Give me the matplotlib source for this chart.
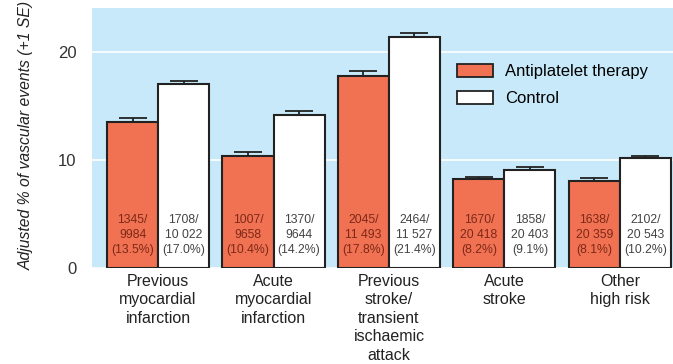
import matplotlib
matplotlib.use("Agg")
import matplotlib.pyplot as plt
from matplotlib.patches import Patch
import numpy as np

plt.rcParams['font.family'] = ['Liberation Sans', 'DejaVu Sans']

categories = ["Previous\nmyocardial\ninfarction",
              "Acute\nmyocardial\ninfarction",
              "Previous\nstroke/\ntransient\nischaemic\nattack",
              "Acute\nstroke",
              "Other\nhigh risk"]
antiplatelet = [13.5, 10.4, 17.8, 8.2, 8.1]
control = [17.0, 14.2, 21.4, 9.1, 10.2]
antiplatelet_se = [0.4, 0.35, 0.45, 0.2, 0.2]
control_se = [0.3, 0.35, 0.4, 0.25, 0.15]
antiplatelet_counts = ["1345/\n9984", "1007/\n9658", "2045/\n11 493", "1670/\n20 418", "1638/\n20 359"]
control_counts = ["1708/\n10 022", "1370/\n9644", "2464/\n11 527", "1858/\n20 403", "2102/\n20 543"]
series_names = ["Antiplatelet therapy", "Control"]
yticks = [0, 10, 20]

bg = "#c7e9f9"
red = "#f07252"
edge = "#222222"

fig = plt.figure(figsize=(6.73, 3.64), dpi=100)
ax = fig.add_axes([92 / 673, 1 - 268 / 364, 581 / 673, 260 / 364])
ax.set_facecolor(bg)

x = np.arange(len(categories))
w = 0.442
ax.bar(x - w / 2, antiplatelet, w, color=red, edgecolor=edge, linewidth=1.5, zorder=3)
ax.bar(x + w / 2, control, w, color="white", edgecolor=edge, linewidth=1.5, zorder=3)
ax.errorbar(x - w / 2, antiplatelet, yerr=[np.zeros(5), antiplatelet_se], fmt="none",
            ecolor=edge, elinewidth=1.3, capsize=10, capthick=1.3, zorder=2)
ax.errorbar(x + w / 2, control, yerr=[np.zeros(5), control_se], fmt="none",
            ecolor=edge, elinewidth=1.3, capsize=10, capthick=1.3, zorder=2)

# event counts and rates written inside each bar
for i in range(len(categories)):
    ax.text(x[i] - w / 2, 3.05, f"{antiplatelet_counts[i]}\n({antiplatelet[i]:.1f}%)",
            ha="center", va="center", fontsize=8.8, color="#7e2818", linespacing=1.35, zorder=4)
    ax.text(x[i] + w / 2, 3.05, f"{control_counts[i]}\n({control[i]:.1f}%)",
            ha="center", va="center", fontsize=8.8, color="#444444", linespacing=1.35, zorder=4)

ax.set_xlim(-0.572, 4.46)
ax.set_ylim(0, 24.07)
ax.set_yticks(yticks)
ax.set_yticklabels([str(t) for t in yticks], fontsize=12, color="#333333")
ax.yaxis.grid(True, color="white", linewidth=1.2, zorder=0)
ax.set_axisbelow(True)
ax.set_xticks(x)
ax.set_xticklabels(categories, fontsize=11.5, color="#222222", linespacing=1.3)
ax.tick_params(axis="both", length=0)
ax.tick_params(axis="y", pad=11)
ax.tick_params(axis="x", pad=4)
for s in ax.spines.values():
    s.set_visible(False)

ax.set_ylabel("Adjusted % of vascular events (+1 SE)", fontsize=11.3, style="italic",
              color="#222222")
ax.yaxis.set_label_coords(-0.100, 0.51)

handles = [Patch(facecolor=red, edgecolor=edge, linewidth=1.3),
           Patch(facecolor="white", edgecolor=edge, linewidth=1.3)]
ax.legend(handles, series_names, loc="upper left", bbox_to_anchor=(0.628, 0.785),
          frameon=False, fontsize=12, handlelength=2.15, handleheight=0.84,
          labelspacing=0.68, handletextpad=0.72, borderpad=0, borderaxespad=0)

fig.savefig("out.png", dpi=100)
